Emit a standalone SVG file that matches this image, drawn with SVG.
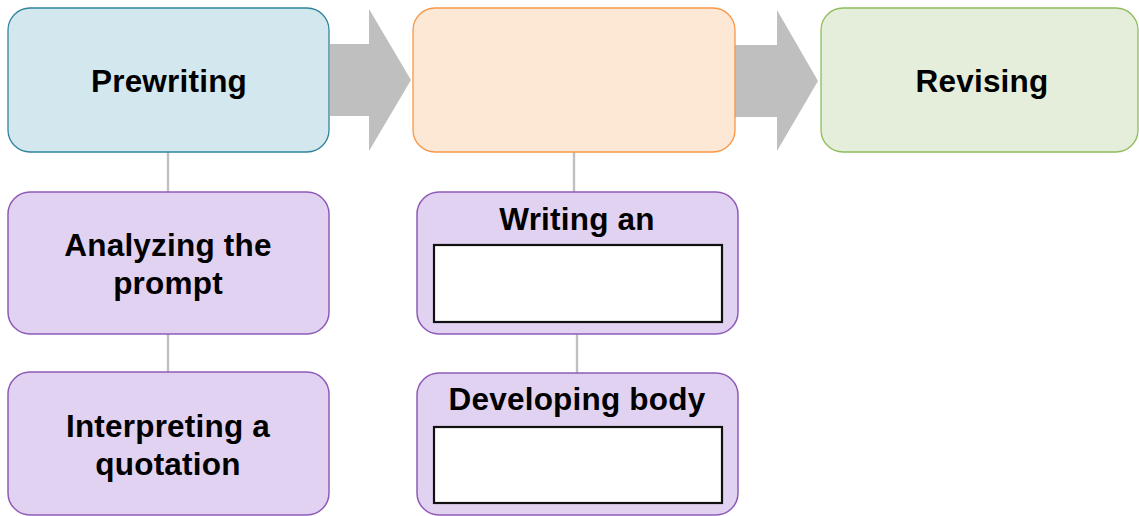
<svg xmlns="http://www.w3.org/2000/svg" width="1139" height="516" viewBox="0 0 1139 516">
  <style>
    .lbl { font-family: "Liberation Sans", Arial, sans-serif; font-weight: bold; font-size: 31.5px; letter-spacing: 0.2px; fill: #000; text-anchor: middle; }
    .blue { fill: #d2e7ee; stroke: #31849b; stroke-width: 1.3; }
    .orange { fill: #fde8d6; stroke: #f79646; stroke-width: 1.3; }
    .green { fill: #e4eedb; stroke: #8fbc5a; stroke-width: 1.3; }
    .purple { fill: #e2d2f1; stroke: #8e5bb8; stroke-width: 1.5; }
    .blank { fill: #fff; stroke: #111; stroke-width: 2.2; }
    .link { stroke: #c0c0c0; stroke-width: 2.4; fill: none; }
    .flow { fill: #c0bfc0; }
  </style>

  <!-- connectors: flow arrows and tree lines -->
  <g id="connectors">
    <polygon class="flow" points="330,44 369,44 369,9 411,80 369,151 369,116 330,116"/>
    <polygon class="flow" points="735,45 777,45 777,10 818,81 777,151 777,117 735,117"/>
    <line class="link" x1="168" y1="152" x2="168" y2="192"/>
    <line class="link" x1="168" y1="334" x2="168" y2="372"/>
    <line class="link" x1="574" y1="152" x2="574" y2="192"/>
    <line class="link" x1="577" y1="334" x2="577" y2="373"/>
  </g>

  <g id="prewriting">
    <rect class="blue" x="8" y="8" width="321" height="144" rx="22"/>
    <text class="lbl" x="169" y="92">Prewriting</text>
  </g>

  <g id="drafting">
    <rect class="orange" x="413" y="8" width="322" height="144" rx="22"/>
  </g>

  <g id="revising">
    <rect class="green" x="821" y="8" width="317" height="144" rx="22"/>
    <text class="lbl" x="982" y="92">Revising</text>
  </g>

  <g id="analyzing">
    <rect class="purple" x="8" y="192" width="321" height="142" rx="22"/>
    <text class="lbl" x="168" y="256">Analyzing the</text>
    <text class="lbl" x="168" y="294">prompt</text>
  </g>

  <g id="interpreting">
    <rect class="purple" x="8" y="372" width="321" height="143" rx="22"/>
    <text class="lbl" x="168" y="437">Interpreting a</text>
    <text class="lbl" x="168" y="475">quotation</text>
  </g>

  <g id="writing">
    <rect class="purple" x="417" y="192" width="321" height="142" rx="22"/>
    <text class="lbl" x="577" y="230">Writing an</text>
    <rect class="blank" x="434" y="245" width="288" height="77"/>
  </g>

  <g id="developing">
    <rect class="purple" x="417" y="373" width="321" height="142" rx="22"/>
    <text class="lbl" x="577" y="410">Developing body</text>
    <rect class="blank" x="434" y="427" width="288" height="76"/>
  </g>
</svg>
